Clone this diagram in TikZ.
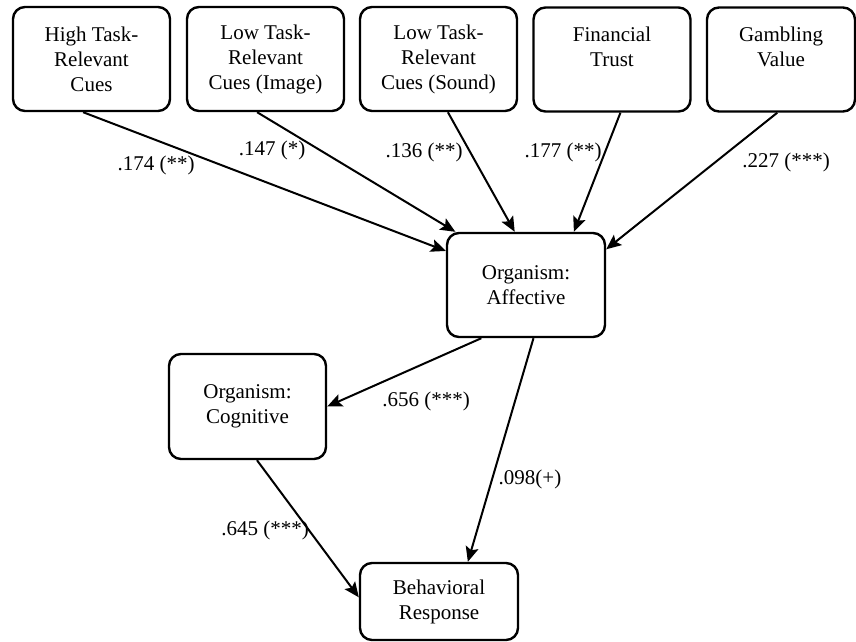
\documentclass[tikz,border=0pt]{standalone}
\usepackage{fontspec}
\setmainfont{Liberation Serif}
\usetikzlibrary{
  arrows.meta
}
\tikzset{
  modelbox/.style={draw,line width=1.2pt,rounded corners=6pt,align=center,
    minimum width=78.5pt,minimum height=52pt,inner sep=2pt,
    font=\rmfamily\fontsize{10.5}{12.5}\selectfont},
  coef/.style={inner sep=1pt,font=\rmfamily\fontsize{10.5}{12.5}\selectfont},
  path arrow/.style={line width=1pt,-{Stealth[length=7.5pt,width=6.5pt,inset=1.5pt]}},
}

\begin{document}
\begin{tikzpicture}[x=0.5pt,y=-0.5pt]
\useasboundingbox (0,0) rectangle (856,642);
% stimuli
\node[modelbox] (hi) at (91.5,59) {High Task-\\Relevant\\Cues};
\node[modelbox] (loimg) at (265.5,59) {Low Task-\\Relevant\\Cues (Image)};
\node[modelbox] (losnd) at (438.5,59) {Low Task-\\Relevant\\Cues (Sound)};
\node[modelbox] (trust) at (612,59.5) {Financial\\Trust\\~};
\node[modelbox,minimum width=74pt] (gamble) at (781,59.5) {Gambling\\Value\\~};
% organism and response
\node[modelbox,minimum width=79pt] (aff) at (526,285) {Organism:\\Affective};
\node[modelbox,minimum height=52.5pt] (cog) at (247.5,406.5) {Organism:\\Cognitive};
\node[modelbox,minimum width=79pt,minimum height=38.5pt] (resp) at (439,601.5) {Behavioral\\Response};

\draw[path arrow] (hi.261) -- (aff.157);
\draw[path arrow] (loimg.261) -- (aff.143);
\draw[path arrow] (losnd.280) -- (aff.102);
\draw[path arrow] (trust.279) -- (aff.48.5);
\draw[path arrow] (gamble.266) -- (aff.24);
\draw[path arrow] (aff.230) -- (cog.east);
\draw[path arrow] (aff.278) -- (resp.54);
\draw[path arrow] (cog.280) -- (resp.177);

% coefficients
\node[coef] (c1) at (156,165) {.174 (**)};
\node[coef] (c2) at (272,150) {.147 (*)};
\node[coef] (c3) at (424,152) {.136 (**)};
\node[coef] (c4) at (563,152) {.177 (**)};
\node[coef] (c5) at (786,162) {.227 (***)};
\node[coef] (c6) at (426,401) {.656 (***)};
\node[coef] (c7) at (530,479) {.098(+)};
\node[coef] (c8) at (265,530) {.645 (***)};
\end{tikzpicture}
\end{document}
